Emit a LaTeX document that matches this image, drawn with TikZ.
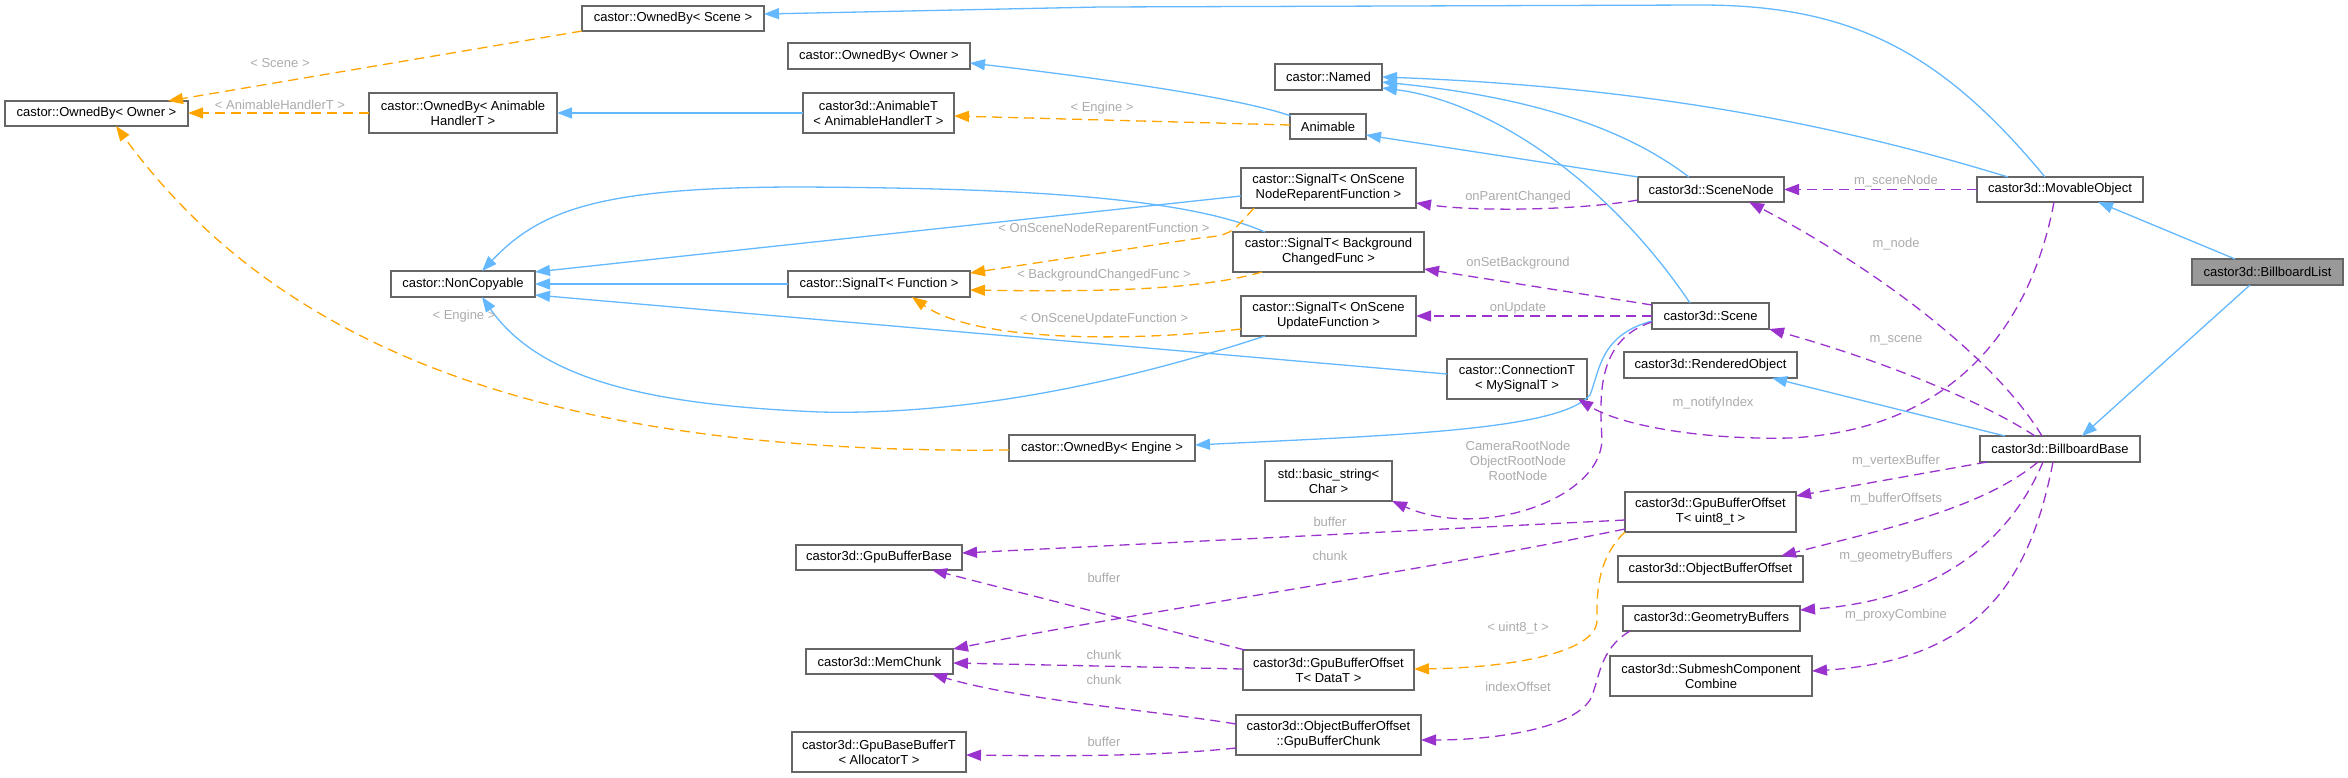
\documentclass[tikz,border=0pt]{standalone}
\usepackage{fontspec}
\setmainfont{Liberation Sans}
\usetikzlibrary{arrows.meta,calc}
\definecolor{boxc}{HTML}{666666}
\definecolor{selc}{HTML}{999999}
\definecolor{inhc}{HTML}{63B8FF}
\definecolor{tplc}{HTML}{FFA500}
\definecolor{usec}{HTML}{9A32CD}
\definecolor{lblc}{HTML}{ABABAB}
\newcommand\nfont{\fontsize{13}{15}\selectfont}
\tikzset{
  box/.style 2 args={draw=boxc, fill=white, line width=1.1pt, inner sep=0pt, align=center,
    font=\nfont, text=black, minimum width=#1pt, minimum height=#2pt},
  lbl/.style={inner sep=0pt, align=center, font=\nfont, text=lblc},
  inh/.style={draw=inhc, line width=1.3pt, -{Triangle[length=15pt,width=11pt]}},
  tpl/.style={draw=tplc, line width=1.3pt, dash pattern=on 10pt off 6pt, -{Triangle[length=15pt,width=11pt]}},
  use/.style={draw=usec, line width=1.3pt, dash pattern=on 10pt off 6pt, -{Triangle[length=15pt,width=11pt]}}
}
\begin{document}
\begin{tikzpicture}[x=1pt,y=-1pt]
\useasboundingbox (0,0) rectangle (2348,777);
% nodes
\node[box={182}{25}] (osc) at (673,18.5) {castor::OwnedBy< Scene >};
\node[box={183}{25}] (oown) at (96.5,113.5) {castor::OwnedBy< Owner >};
\node[box={188}{40}] (oah) at (463,113) {castor::OwnedBy< Animable\\HandlerT >};
\node[box={182}{26}] (oown2) at (879,56) {castor::OwnedBy< Owner >};
\node[box={151}{40}] (animT) at (878.5,113) {castor3d::AnimableT\\< AnimableHandlerT >};
\node[box={107}{26}] (named) at (1328.5,77) {castor::Named};
\node[box={76}{25}] (animable) at (1328,126.5) {Animable};
\node[box={175}{40}] (sigRep) at (1328.5,188) {castor::SignalT< OnScene\\NodeReparentFunction >};
\node[box={191}{40}] (sigBg) at (1328.5,252) {castor::SignalT< Background\\ChangedFunc >};
\node[box={182}{26}] (sigFn) at (879,284) {castor::SignalT< Function >};
\node[box={175}{40}] (sigUpd) at (1328.5,316) {castor::SignalT< OnScene\\UpdateFunction >};
\node[box={144}{26}] (noncop) at (463,284) {castor::NonCopyable};
\node[box={140}{40}] (conn) at (1517,379) {castor::ConnectionT\\< MySignalT >};
\node[box={186}{26}] (oeng) at (1102,448) {castor::OwnedBy< Engine >};
\node[box={127}{40}] (bstr) at (1328.5,481) {std::basic\_string<\\Char >};
\node[box={166}{25}] (gbb) at (879,557.5) {castor3d::GpuBufferBase};
\node[box={147}{25}] (memchunk) at (879.5,661.5) {castor3d::MemChunk};
\node[box={171}{40}] (gboD) at (1328.5,670) {castor3d::GpuBufferOffset\\T< DataT >};
\node[box={185}{40}] (gbchunk) at (1328.5,735) {castor3d::ObjectBufferOffset\\::GpuBufferChunk};
\node[box={174}{40}] (gbbt) at (879,752) {castor3d::GpuBaseBufferT\\< AllocatorT >};
\node[box={146}{25}] (sn) at (1711,189.5) {castor3d::SceneNode};
\node[box={166}{25}] (movable) at (2060,189.5) {castor3d::MovableObject};
\node[box={151}{26}, fill=selc] (bblist) at (2267.5,272) {castor3d::BillboardList};
\node[box={117}{26}] (scene) at (1710.5,316) {castor3d::Scene};
\node[box={173}{26}] (rendered) at (1710.5,365) {castor3d::RenderedObject};
\node[box={160}{26}] (bbbase) at (2060,449) {castor3d::BillboardBase};
\node[box={171}{40}] (gbo8) at (1710.5,512) {castor3d::GpuBufferOffset\\T< uint8\_t >};
\node[box={185}{26}] (obo) at (1710.5,569) {castor3d::ObjectBufferOffset};
\node[box={177}{25}] (geombuf) at (1711.5,618.5) {castor3d::GeometryBuffers};
\node[box={202}{40}] (submesh) at (1711,676) {castor3d::SubmeshComponent\\Combine};
% inheritance edges
\draw[inh] ($(movable)+(-15,-12.5)$) .. controls (1940,50) and (1850,5) .. (1700,5) -- (1100,7) -- ($(osc)+(91,-4.5)$);
\draw[inh] ($(movable)+(-52,-12.5)$) .. controls (1870,135) and (1680,88) .. ($(named)+(53.5,0)$);
\draw[inh] ($(sn)+(-22,-12.5)$) .. controls (1640,140) and (1560,100) .. ($(named)+(53.5,5)$);
\draw[inh] ($(scene)+(-20.5,-13)$) .. controls (1600,170) and (1480,100) .. ($(named)+(53.5,11)$);
\draw[inh] ($(sn)+(-73,-12.5)$) -- ($(animable)+(38,8.5)$);
\draw[inh] ($(animable)+(-37,-10.5)$) .. controls (1240,98) and (1100,78) .. ($(oown2)+(91,7)$);
\draw[inh] ($(animT)+(-75.5,0)$) -- ($(oah)+(94,0)$);
\draw[inh] ($(sigBg)+(-63.5,-20)$) .. controls (1180,195) and (1000,188) .. (800,187) .. controls (600,187) and (540,210) .. ($(noncop)+(19,-13)$);
\draw[inh] ($(sigRep)+(-87.5,8)$) -- ($(noncop)+(72,-12)$);
\draw[inh] ($(sigFn)+(-91,0)$) -- ($(noncop)+(72,0)$);
\draw[inh] ($(conn)+(-70,-5)$) -- ($(noncop)+(72,11)$);
\draw[inh] ($(sigUpd)+(-63.5,20)$) .. controls (1100,390) and (950,415) .. (820,412) .. controls (650,405) and (540,380) .. ($(noncop)+(19,13)$);
\draw[inh] ($(bblist)+(-32.5,-13)$) -- ($(movable)+(38,12.5)$);
\draw[inh] ($(bblist)+(-17.5,13)$) -- ($(bbbase)+(22,-13)$);
\draw[inh] ($(bbbase)+(-55,-13)$) -- ($(rendered)+(61.5,13)$);
\draw[inh] ($(scene)+(-58.5,5)$) .. controls (1600,335) and (1600,370) .. (1590,395) .. controls (1560,430) and (1400,435) .. ($(oeng)+(93,-3)$);
% template edges
\draw[tpl] ($(animable)+(-38,-1.5)$) -- ($(animT)+(75.5,3)$);
\draw[tpl] ($(oah)+(-94,0)$) -- ($(oown)+(91.5,-0.5)$);
\draw[tpl] ($(osc)+(-91,12.5)$) -- ($(oown)+(71.5,-12.5)$);
\draw[tpl] ($(oeng)+(-93,2)$) .. controls (550,455) and (280,350) .. ($(oown)+(19.5,12.5)$);
\draw[tpl] ($(sigRep)+(-74.5,20)$) .. controls (1230,235) .. (1200,238) -- ($(sigFn)+(91,-11)$);
\draw[tpl] ($(sigBg)+(-66.5,20)$) .. controls (1200,290) and (1100,292) .. ($(sigFn)+(91,6)$);
\draw[tpl] ($(sigUpd)+(-87.5,13)$) .. controls (1150,340) and (980,345) .. ($(sigFn)+(33,13)$);
\draw[tpl] ($(gbo8)+(-85.5,20)$) .. controls (1595,560) and (1597,600) .. (1597,620) .. controls (1597,655) and (1500,668) .. ($(gboD)+(85.5,-1)$);
% usage edges
\draw[use] ($(sn)+(-73,10.5)$) .. controls (1580,210) and (1480,212) .. ($(sigRep)+(87.5,15)$);
\draw[use] ($(movable)+(-83,0)$) -- ($(sn)+(73,0)$);
\draw[use] ($(bbbase)+(-18,-13)$) .. controls (1990,350) and (1860,260) .. ($(sn)+(38,12.5)$);
\draw[use] ($(scene)+(-58.5,-11)$) -- ($(sigBg)+(95.5,17)$);
\draw[use] ($(scene)+(-58.5,0)$) -- ($(sigUpd)+(87.5,0)$);
\draw[use] ($(bbbase)+(-25,-13)$) .. controls (1980,400) and (1880,360) .. ($(scene)+(58.5,13)$);
\draw[use] ($(movable)+(-6,12.5)$) .. controls (2030,330) and (1950,430) .. (1790,438) .. controls (1700,440) and (1620,425) .. ($(conn)+(61,20)$);
\draw[use] ($(scene)+(-58.5,6)$) .. controls (1595,340) and (1600,400) .. (1602,440) .. controls (1600,500) and (1480,540) .. ($(bstr)+(63.5,20)$);
\draw[use] ($(gbo8)+(-85.5,8)$) -- ($(gbb)+(83,-4.5)$);
\draw[use] ($(gbo8)+(-85.5,17)$) .. controls (1400,575) and (1150,610) .. ($(memchunk)+(73.5,-12.5)$);
\draw[use] ($(gboD)+(-83.5,-20)$) -- ($(gbb)+(53,12.5)$);
\draw[use] ($(gboD)+(-85.5,-1)$) -- ($(memchunk)+(73.5,1.5)$);
\draw[use] ($(gbchunk)+(-92.5,-11)$) .. controls (1150,710) and (1020,700) .. ($(memchunk)+(52.5,12.5)$);
\draw[use] ($(gbchunk)+(-92.5,13)$) .. controls (1150,757) and (1050,756) .. ($(gbbt)+(87,3)$);
\draw[use] ($(geombuf)+(-81.5,12.5)$) .. controls (1598,650) and (1600,680) .. (1590,700) .. controls (1570,730) and (1490,740) .. ($(gbchunk)+(92.5,5)$);
\draw[use] ($(bbbase)+(-73,13)$) -- ($(gbo8)+(85.5,-16)$);
\draw[use] ($(bbbase)+(-22,13)$) .. controls (1980,510) and (1880,530) .. ($(obo)+(70.5,-13)$);
\draw[use] ($(bbbase)+(-17,13)$) .. controls (2010,540) and (1940,600) .. ($(geombuf)+(88.5,-8.5)$);
\draw[use] ($(bbbase)+(-7,13)$) .. controls (2030,580) and (1980,660) .. ($(submesh)+(101,-5)$);
% labels
\node[lbl] (l1) at (280,63) {< Scene >};
\node[lbl] (l2) at (280,105) {< AnimableHandlerT >};
\node[lbl] (l3) at (1102,108) {< Engine >};
\node[lbl] (l4) at (464,316) {< Engine >};
\node[lbl] (l5) at (1104,229) {< OnSceneNodeReparentFunction >};
\node[lbl] (l6) at (1104,275) {< BackgroundChangedFunc >};
\node[lbl] (l7) at (1104,319) {< OnSceneUpdateFunction >};
\node[lbl] (l8) at (1518,197) {onParentChanged};
\node[lbl] (l9) at (1896,181) {m\_sceneNode};
\node[lbl] (l10) at (1896,244) {m\_node};
\node[lbl] (l11) at (1518,263) {onSetBackground};
\node[lbl] (l12) at (1518,308) {onUpdate};
\node[lbl] (l13) at (1896,340) {m\_scene};
\node[lbl] (l14) at (1713,403) {m\_notifyIndex};
\node[lbl] (l15) at (1518,461) {CameraRootNode\\ObjectRootNode\\RootNode};
\node[lbl] (l16) at (1330,522) {buffer};
\node[lbl] (l17) at (1330,556) {chunk};
\node[lbl] (l18) at (1104,578) {buffer};
\node[lbl] (l19) at (1104,655) {chunk};
\node[lbl] (l20) at (1104,680) {chunk};
\node[lbl] (l21) at (1104,742) {buffer};
\node[lbl] (l22) at (1518,628) {< uint8\_t >};
\node[lbl] (l23) at (1518,687) {indexOffset};
\node[lbl] (l24) at (1896,461) {m\_vertexBuffer};
\node[lbl] (l25) at (1896,499) {m\_bufferOffsets};
\node[lbl] (l26) at (1896,556) {m\_geometryBuffers};
\node[lbl] (l27) at (1896,615) {m\_proxyCombine};
\end{tikzpicture}
\end{document}
